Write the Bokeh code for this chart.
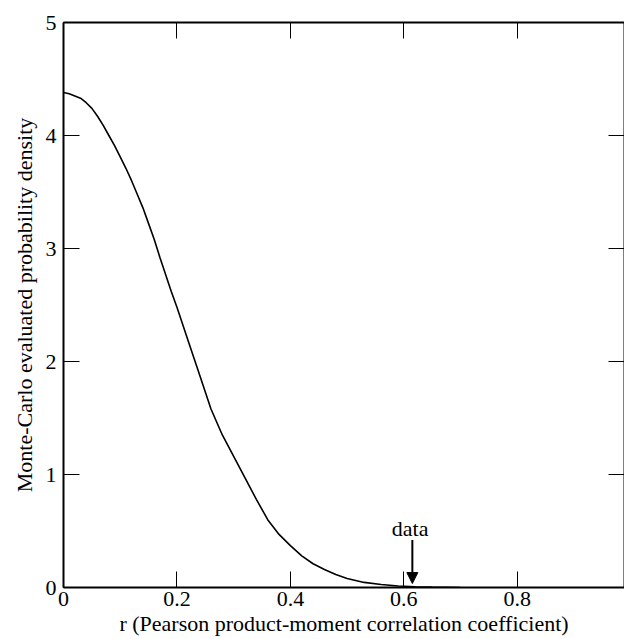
from bokeh.plotting import figure
from bokeh.models import (LinearAxis, Range1d, Arrow, NormalHead, ColumnDataSource,
                          Label, CustomLabelingPolicy)
from bokeh.embed import file_html
from bokeh.resources import INLINE

# Monte-Carlo evaluated probability density of r
r_vals = [0.00, 0.01, 0.02, 0.03, 0.04, 0.05, 0.06, 0.07, 0.08, 0.09,
          0.10, 0.11, 0.12, 0.13, 0.14, 0.15, 0.16, 0.17, 0.18, 0.19,
          0.20, 0.22, 0.24, 0.26, 0.28, 0.30, 0.32, 0.34, 0.36, 0.38,
          0.40, 0.42, 0.44, 0.46, 0.48, 0.50, 0.53, 0.56, 0.59, 0.62,
          0.65, 0.70]
density = [4.38, 4.37, 4.35, 4.33, 4.29, 4.24, 4.17, 4.09, 4.00, 3.91,
           3.81, 3.71, 3.60, 3.48, 3.36, 3.22, 3.08, 2.92, 2.77, 2.62,
           2.48, 2.18, 1.88, 1.58, 1.35, 1.16, 0.97, 0.78, 0.60, 0.47,
           0.37, 0.28, 0.21, 0.16, 0.115, 0.08, 0.045, 0.027, 0.013, 0.006,
           0.003, 0.0]

x_ticks = [0, 0.2, 0.4, 0.6, 0.8]
y_ticks = [0, 1, 2, 3, 4, 5]

# observed value marker
data_r = [0.615]
arrow_top = [0.42]
arrow_tip = [0.035]
data_label = "data"

FONT = "'Liberation Serif', 'Times New Roman', serif"

p = figure(width=624, height=639, output_backend="svg", toolbar_location=None,
           x_range=Range1d(0, 0.989), y_range=Range1d(0, 5),
           min_border_left=63, min_border_right=0, min_border_top=22,
           min_border_bottom=52)
p.outline_line_color = None
p.grid.visible = False
p.background_fill_color = "white"

p.line(r_vals, density, line_color="black", line_width=1.6)

src = ColumnDataSource(dict(x0=data_r, y0=arrow_top, x1=data_r, y1=arrow_tip))
p.add_layout(Arrow(source=src, x_start="x0", y_start="y0", x_end="x1", y_end="y1",
                   line_color="black", line_width=2,
                   end=NormalHead(size=11, fill_color="black", line_color="black")))
p.add_layout(Label(x=data_r[0] - 0.004, y=arrow_top[0] + 0.1, text=data_label,
                   text_font=FONT, text_font_size="22px", text_align="center",
                   text_baseline="alphabetic", text_color="black"))

def style(ax, labels=True):
    ax.axis_line_color = "black"
    ax.axis_line_width = 2
    ax.major_tick_in = 16
    ax.major_tick_out = 0
    ax.minor_tick_in = 8
    ax.minor_tick_out = 0
    ax.major_tick_line_color = "black"
    ax.minor_tick_line_color = "black"
    ax.major_tick_line_width = 1
    ax.minor_tick_line_width = 1
    if labels:
        ax.major_label_text_font = FONT
        ax.major_label_text_font_size = "22px"
        ax.major_label_text_color = "black"
        ax.axis_label_text_font = FONT
        ax.axis_label_text_font_size = "22px"
        ax.axis_label_text_font_style = "normal"
        ax.axis_label_text_color = "black"
    else:
        ax.major_label_text_font_size = "0px"
        ax.major_label_standoff = 0
        ax.major_label_policy = CustomLabelingPolicy(
            code="for (const i of indices) { indices.unset(i) }\nreturn indices")

xa = p.xaxis[0]
style(xa)
xa.ticker = x_ticks
xa.ticker.num_minor_ticks = 2
xa.axis_label = "r (Pearson product-moment correlation coefficient)"
xa.major_label_standoff = 4
xa.axis_label_standoff = 2

ya = p.yaxis[0]
style(ya)
ya.ticker = y_ticks
ya.ticker.num_minor_ticks = 2
ya.axis_label = "Monte-Carlo evaluated probability density"
ya.major_label_standoff = 7
ya.axis_label_standoff = 6

top = LinearAxis(ticker=x_ticks)
top.ticker.num_minor_ticks = 2
style(top, labels=False)
p.add_layout(top, "above")

right = LinearAxis(ticker=y_ticks)
right.ticker.num_minor_ticks = 2
style(right, labels=False)
p.add_layout(right, "right")

open("out.html", "w").write(file_html(p, INLINE))
